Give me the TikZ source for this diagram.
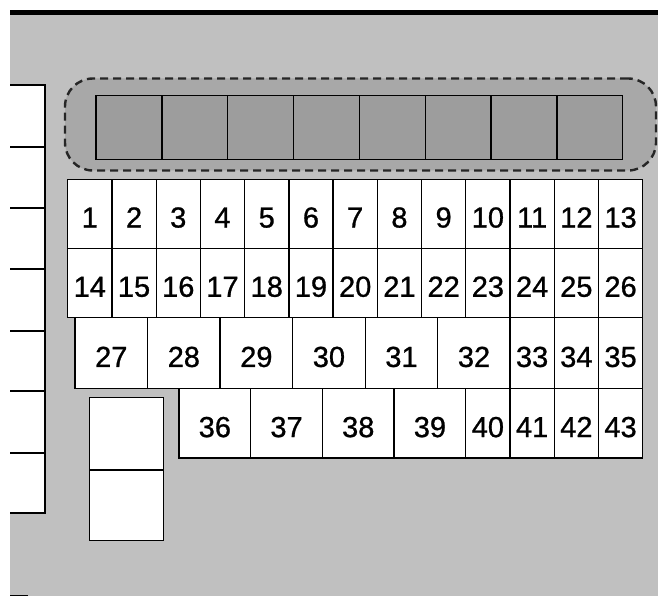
\documentclass[tikz,border=0pt]{standalone}
\usepackage{fontspec}
\setmainfont{Liberation Sans}
\newfontfamily\digitfont[FakeBold=0.9]{Liberation Sans}
\definecolor{bggray}{RGB}{192,192,192}
\definecolor{zonegray}{RGB}{168,168,168}
\definecolor{slotgray}{RGB}{157,157,157}
\tikzset{
  fuse/.style={draw=black, fill=white, line width=1.3pt, inner sep=0pt, rectangle,
    font=\digitfont\fontsize{29}{29}\selectfont, text height=27.5pt, text depth=0pt},
  slot/.style={draw=black, fill=slotgray, line width=1.4pt, inner sep=0pt, rectangle},
  sidebox/.style={draw=black, fill=white, line width=1.3pt, inner sep=0pt, rectangle},
  zone/.style={draw=black!85, fill=zonegray, line width=2.4pt, dash pattern=on 8pt off 5pt, rounded corners=28pt}
}
\newcommand{\fusebox}[6]{%
  \pgfmathsetmacro{\fw}{#4-#2}\pgfmathsetmacro{\fh}{#5-#3}%
  \pgfmathsetmacro{\fx}{(#2+#4)/2}\pgfmathsetmacro{\fy}{(#3+#5)/2}%
  \node[fuse, minimum width=\fw pt, minimum height=\fh pt] (#1) at (\fx,\fy) {#6};}
\newcommand{\plainbox}[6]{%
  \pgfmathsetmacro{\fw}{#4-#2}\pgfmathsetmacro{\fh}{#5-#3}%
  \pgfmathsetmacro{\fx}{(#2+#4)/2}\pgfmathsetmacro{\fy}{(#3+#5)/2}%
  \node[#6, minimum width=\fw pt, minimum height=\fh pt] (#1) at (\fx,\fy) {};}
\begin{document}
\begin{tikzpicture}[x=1pt,y=-1pt]
\useasboundingbox (0,0) rectangle (658,596);
\fill[white] (0,0) rectangle (658,596);
\fill[bggray] (10,15.5) rectangle (658,596);
\fill[black] (10,10) rectangle (658,15.5);
% side boxes
\foreach \a/\b [count=\i] in {85/147,147/208,208/269,269/331,331/391,391/453,453/513}{
  \plainbox{side\i}{2}{\a}{45}{\b}{sidebox}
}
% dashed zone
\node[zone, minimum width=591pt, minimum height=92pt, inner sep=0pt] (zone) at (360.5,124.5) {};
% dark slots
\foreach \k in {0,...,7}{
  \pgfmathsetmacro{\xa}{96+65.84*\k}\pgfmathsetmacro{\xb}{96+65.84*(\k+1)}
  \plainbox{slot\k}{\xa}{95.7}{\xb}{159.3}{slot}
}
% row 1 and row 2
\foreach \i in {0,...,12}{
  \pgfmathsetmacro{\xa}{67.7+44.23*\i}\pgfmathsetmacro{\xb}{67.7+44.23*(\i+1)}
  \pgfmathtruncatemacro{\na}{\i+1}\pgfmathtruncatemacro{\nb}{\i+14}
  \fusebox{f\na}{\xa}{179.3}{\xb}{248.3}{\na}
  \fusebox{f\nb}{\xa}{248.3}{\xb}{317.7}{\nb}
}
% row 3
\foreach \j in {0,...,5}{
  \pgfmathsetmacro{\xa}{75+72.55*\j}\pgfmathsetmacro{\xb}{75+72.55*(\j+1)}
  \pgfmathtruncatemacro{\n}{\j+27}
  \fusebox{f\n}{\xa}{317.7}{\xb}{388.7}{\n}
}
\foreach \i in {10,11,12}{
  \pgfmathsetmacro{\xa}{67.7+44.23*\i}\pgfmathsetmacro{\xb}{67.7+44.23*(\i+1)}
  \pgfmathtruncatemacro{\n}{\i+23}
  \fusebox{f\n}{\xa}{317.7}{\xb}{388.7}{\n}
}
% row 4
\foreach \j in {0,...,3}{
  \pgfmathsetmacro{\xa}{179+71.7*\j}\pgfmathsetmacro{\xb}{179+71.7*(\j+1)}
  \pgfmathtruncatemacro{\n}{\j+36}
  \fusebox{f\n}{\xa}{388.7}{\xb}{458}{\n}
}
\foreach \i in {9,10,11,12}{
  \pgfmathsetmacro{\xa}{67.7+44.23*\i}\pgfmathsetmacro{\xb}{67.7+44.23*(\i+1)}
  \pgfmathtruncatemacro{\n}{\i+31}
  \fusebox{f\n}{\xa}{388.7}{\xb}{458}{\n}
}
% two blank boxes
\plainbox{blankA}{89.3}{397.7}{163.3}{470}{sidebox}
\plainbox{blankB}{89.3}{470}{163.3}{540.7}{sidebox}
% left white margin
\fill[white] (0,0) rectangle (10,596);
% small mark at bottom left
\fill[black] (10,594.5) rectangle (28,596);
\end{tikzpicture}
\end{document}
